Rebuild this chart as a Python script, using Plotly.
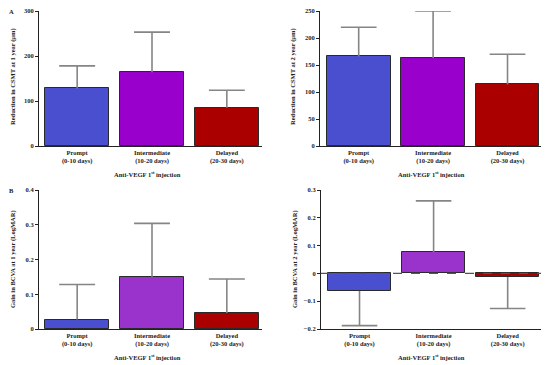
import plotly.graph_objects as go

categories = ["<b>Prompt</b><br><b>(0-10 days)</b>", "<b>Intermediate</b><br><b>(10-20 days)</b>", "<b>Delayed</b><br><b>(20-30 days)</b>"]
csmt_1y = [128, 164, 85]
csmt_1y_err = [50, 89, 39]
csmt_2y = [166, 163, 114]
csmt_2y_err = [54, 87, 56]
bcva_1y = [0.027, 0.15, 0.046]
bcva_1y_err = [0.101, 0.154, 0.098]
bcva_2y = [-0.063, 0.076, -0.013]
bcva_2y_err = [0.125, 0.185, 0.113]

colors_top = ["#4a4fcf", "#9900cc", "#aa0000"]
colors_bot = ["#4a4fcf", "#9933cc", "#aa0000"]
FONT = "Liberation Serif"
ERR_COLOR = "#858585"
CAP = 0.24  # half cap width in category units

# page has an 8px body margin; figure is sized to fit the window
OFF = 8
W, H = 550 - OFF, 365 - OFF

def px(x):
    return min(1.0, max(0.0, (x - OFF) / W))

def py(y):
    return min(1.0, max(0.0, 1 - (y - OFF) / H))

fig = go.Figure()

def add_bar(vals, errs, colors, xa, ya):
    xs = [0, 1, 2]
    fig.add_trace(go.Bar(
        x=xs, y=vals, width=0.855,
        marker=dict(color=colors, line=dict(color="#2a2a2a", width=1)),
        xaxis=xa, yaxis=ya, showlegend=False, hoverinfo="skip"))
    lx, ly = [], []
    for x, v, e in zip(xs, vals, errs):
        end = v + e if v >= 0 else v - e
        lx += [x, x, None, x - CAP, x + CAP, None]
        ly += [v, end, None, end, end, None]
    fig.add_trace(go.Scatter(x=lx, y=ly, mode="lines",
                             line=dict(color=ERR_COLOR, width=1.6),
                             xaxis=xa, yaxis=ya, showlegend=False, hoverinfo="skip"))

add_bar(csmt_1y, csmt_1y_err, colors_top, "x", "y")
add_bar(csmt_2y, csmt_2y_err, colors_top, "x2", "y2")
add_bar(bcva_1y, bcva_1y_err, colors_bot, "x3", "y3")
add_bar(bcva_2y, bcva_2y_err, colors_bot, "x4", "y4")

tickf = dict(family=FONT, size=6.5, color="#222")

def xaxis(dom, rng, anchor):
    return dict(domain=dom, range=rng, anchor=anchor, tickmode="array",
                tickvals=[0, 1, 2], ticktext=categories, showline=True,
                linecolor="#222", linewidth=1, ticks="", showgrid=False,
                zeroline=False, tickfont=tickf, automargin=False)

def yaxis(dom, rng, dt, anchor):
    return dict(domain=dom, range=rng, dtick=dt, anchor=anchor, showline=True,
                linecolor="#222", linewidth=1, ticks="outside", ticklen=3,
                tickcolor="#222", showgrid=False, zeroline=False,
                tickfont=dict(family=FONT, size=6.5, color="#222"),
                tickprefix="<b>", ticksuffix="</b>", automargin=False,
                ticklabeloverflow="allow")

fig.update_layout(
    width=W, height=H, margin=dict(l=0, r=0, t=0, b=0),
    plot_bgcolor="white", paper_bgcolor="white", bargap=0,
    xaxis=xaxis([px(39), px(262)], [-0.51, 2.47], "y"),
    yaxis=yaxis([py(146), py(11)], [0, 300], 100, "x"),
    xaxis2=xaxis([px(320), px(541)], [-0.52, 2.45], "y2"),
    yaxis2=yaxis([py(146), py(11)], [0, 250], 50, "x2"),
    xaxis3=xaxis([px(39), px(262)], [-0.51, 2.47], "y3"),
    yaxis3=yaxis([py(329), py(190)], [0, 0.4], 0.1, "x3"),
    xaxis4=xaxis([px(321), px(541)], [-0.52, 2.45], "y4"),
    yaxis4=yaxis([py(329), py(190)], [-0.2, 0.3], 0.1, "x4"),
)

fig.add_shape(type="line", xref="x4 domain", yref="y4", x0=0, x1=1, y0=0, y1=0,
              line=dict(color="#555", width=1.2, dash="dash"), layer="above")

def ann(text, xp, yp, angle=0, bold=True):
    fig.add_annotation(text=("<b>%s</b>" % text) if bold else text,
                       x=px(xp), y=py(yp), xref="paper", yref="paper",
                       xanchor="center", yanchor="middle",
                       showarrow=False, textangle=angle,
                       font=dict(family=FONT, size=6.5, color="#222"))

ann("A", 11, 12)
ann("B", 11, 190)
xt = "Anti-VEGF 1<sup>st</sup> injection"
ann(xt, 147, 174)
ann(xt, 431, 174)
ann(xt, 147, 357)
ann(xt, 431, 357)
ann("Reduction in CSMT at 1 year (µm)", 13, 77, -90)
ann("Reduction in CSMT at 2 year (µm)", 293, 77, -90)
ann("Gain in BCVA at 1 year (LogMAR)", 13, 259, -90)
ann("Gain in BCVA at 2 year (LogMAR)", 295, 259, -90)

fig.write_html("out.html")
